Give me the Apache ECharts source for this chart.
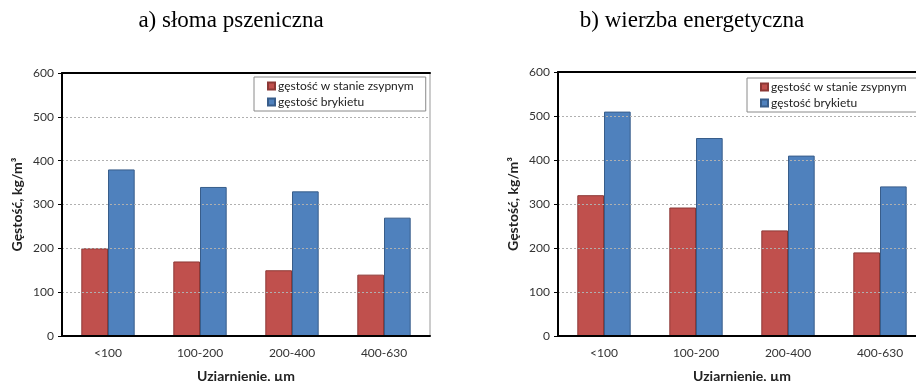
<!DOCTYPE html>
<html><head><meta charset="utf-8">
<script src="https://cdn.jsdelivr.net/npm/echarts@6/dist/echarts.min.js"></script>
<style>html,body{margin:0;padding:0;background:#fff}#c{width:916px;height:381px}</style>
</head><body><div id="c"></div>
<script>
const categories = ['<100', '100-200', '200-400', '400-630'];
const seriesNames = ['gęstość w stanie zsypnym', 'gęstość brykietu'];
const strawBulk = [200, 170, 150, 140];
const strawBriquette = [380, 340, 330, 270];
const willowBulk = [320, 292, 240, 190];
const willowBriquette = [510, 450, 410, 340];
const titles = ['a) słoma pszeniczna', 'b) wierzba energetyczna'];
const yAxisName = 'Gęstość, kg/m³';
const xAxisName = 'Uziarnienie, µm';

const FONT = 'Lato';
const chart = echarts.init(document.getElementById('c'), null, {renderer: 'canvas'});
const grids = [
  {left: 62, top: 73, width: 368, height: 263},
  {left: 558, top: 72, width: 368, height: 264}
];
const xAxes = [], yAxes = [], series = [], legends = [];
grids.forEach((g, i) => {
  Object.assign(g, {show: true, borderColor: '#999', borderWidth: 1, backgroundColor: 'transparent',
    containLabel: false, outerBoundsMode: 'none'});
  xAxes.push({
    type: 'category', gridIndex: i, data: categories, position: 'bottom',
    name: xAxisName, nameLocation: 'middle', nameGap: 33,
    nameTextStyle: {fontFamily: FONT, fontWeight: 'bold', fontSize: 14, color: '#222'},
    axisLine: {lineStyle: {color: '#000', width: 2}},
    axisTick: {show: false},
    axisLabel: {fontFamily: FONT, fontSize: 12, color: '#333', margin: 11},
    z: 5
  });
  xAxes.push({
    type: 'category', gridIndex: i, data: categories, position: 'top',
    axisLine: {lineStyle: {color: '#000', width: 2}},
    axisTick: {show: false}, axisLabel: {show: false}, z: 5
  });
  yAxes.push({
    type: 'value', gridIndex: i, min: 0, max: 600, interval: 100,
    name: yAxisName, nameLocation: 'middle', nameGap: 38, nameRotate: 90,
    nameTextStyle: {fontFamily: FONT, fontWeight: 'bold', fontSize: 14, color: '#222'},
    axisLine: {show: true, lineStyle: {color: '#000', width: 2}},
    axisTick: {show: true, length: 4, lineStyle: {color: '#000', width: 1}},
    axisLabel: {fontFamily: FONT, fontSize: 12, color: '#333', margin: 8},
    splitLine: {show: true, lineStyle: {color: '#b0b0b0', type: [2, 2], width: 1}},
    z: 5
  });
});
const data = [[strawBulk, strawBriquette], [willowBulk, willowBriquette]];
const styles = [
  {color: '#C0504D', borderColor: '#8C3836', borderWidth: 1},
  {color: '#4F81BD', borderColor: '#385D8A', borderWidth: 1}
];
data.forEach((pair, i) => {
  pair.forEach((vals, k) => {
    series.push({
      type: 'bar', name: seriesNames[k], xAxisIndex: i * 2, yAxisIndex: i,
      data: vals, barGap: '0%', barCategoryGap: '42%',
      itemStyle: styles[k], emphasis: {disabled: true}
    });
  });
});
[{left: 254, top: 77}, {left: 747, top: 78}].forEach(p => {
  legends.push({
    left: p.left, top: p.top, orient: 'vertical', itemWidth: 7, itemHeight: 7, itemGap: 4,
    icon: 'rect', padding: [3, 12, 3, 13], borderColor: '#8a8a8a', borderWidth: 1,
    textStyle: {fontFamily: FONT, fontSize: 12, color: '#222', padding: [0, 0, 0, -2]},
    data: seriesNames, selectedMode: false
  });
});
chart.setOption({
  animation: false,
  title: [
    {text: titles[0], left: 226, top: 4, textAlign: 'center', textStyle: {fontFamily: 'Liberation Serif', fontWeight: 'normal', fontSize: 23, color: '#000'}},
    {text: titles[1], left: 687, top: 4, textAlign: 'center', textStyle: {fontFamily: 'Liberation Serif', fontWeight: 'normal', fontSize: 23, color: '#000'}}
  ],
  grid: grids, xAxis: xAxes, yAxis: yAxes, legend: legends, series: series
});
</script></body></html>
